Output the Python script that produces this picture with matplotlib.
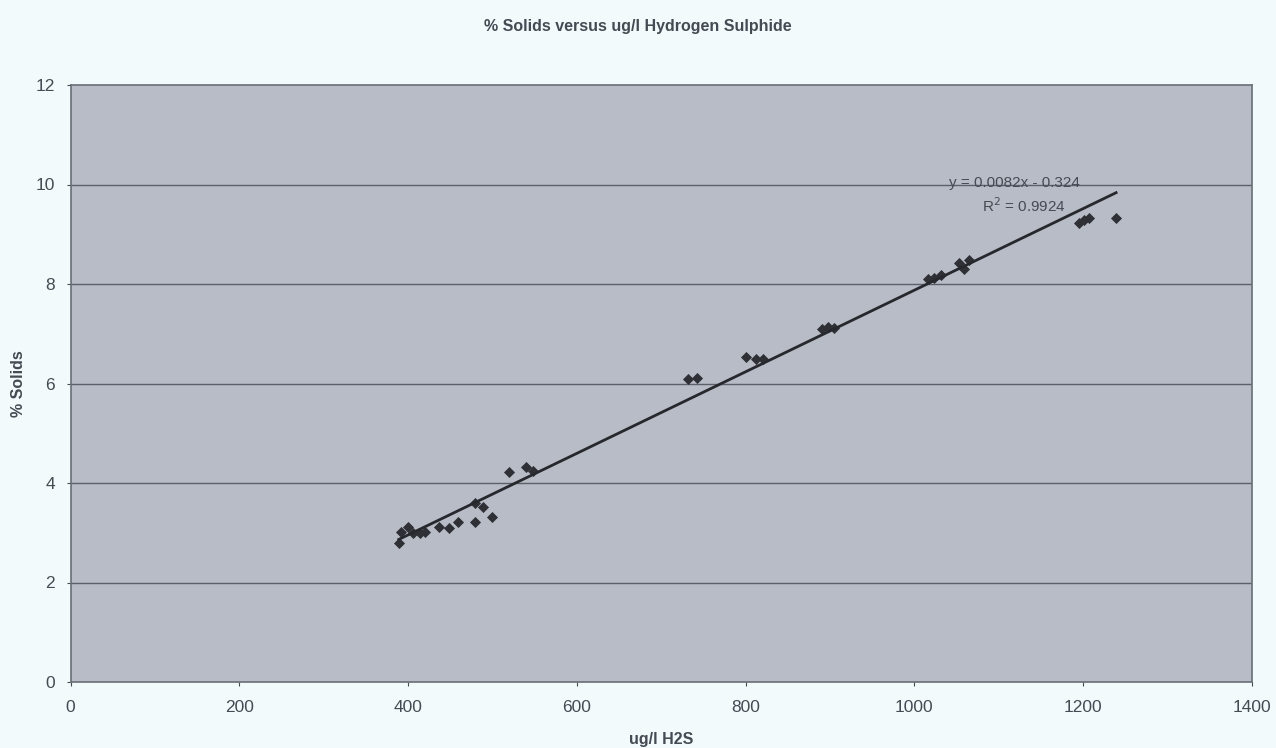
import matplotlib
matplotlib.use('Agg')
import matplotlib.pyplot as plt
import numpy as np

# ug/l H2S against % solids
h2s = [389, 392, 400, 406, 414, 420, 437, 449, 459, 479, 479, 489, 499,
       520, 540, 548,
       732, 742,
       800, 812, 820,
       891, 898, 905,
       1016, 1023, 1031, 1053, 1059, 1065,
       1195, 1201, 1207, 1239]
solids = [2.79, 3.02, 3.12, 2.99, 2.99, 3.02, 3.12, 3.09, 3.22, 3.22, 3.59, 3.52, 3.32,
          4.23, 4.32, 4.25,
          6.10, 6.11,
          6.54, 6.50, 6.50,
          7.10, 7.13, 7.11,
          8.11, 8.13, 8.18, 8.42, 8.31, 8.48,
          9.22, 9.29, 9.32, 9.32]

slope, intercept, r2 = 0.0082, -0.324, 0.9924

xticks = [0, 200, 400, 600, 800, 1000, 1200, 1400]
yticks = [0, 2, 4, 6, 8, 10, 12]

plt.rcParams['font.family'] = ['Liberation Sans', 'DejaVu Sans']
txt = '#454a53'

fig = plt.figure(figsize=(12.76, 7.48), dpi=100, facecolor='#f3fafc')
ax = fig.add_axes([70.5 / 1276, 1 - 682 / 748, (1252 - 70.5) / 1276, (682 - 85) / 748])
ax.set_facecolor('#b7bcc6')

for y in yticks[1:-1]:
    ax.axhline(y, color='#5c6068', lw=1.0, zorder=1)

ax.scatter(h2s, solids, marker='D', s=32, color='#2e3036', zorder=3, linewidths=0)

lx = np.array([min(h2s), max(h2s)])
ax.plot(lx, slope * lx + intercept, color='#26282d', lw=2.0, zorder=4)

ax.text(1118, 10.03, 'y = %gx - %g' % (slope, -intercept), color=txt, fontsize=11,
        ha='center', va='center', zorder=5)
ax.text(1130, 9.57, 'R$^2$ = %g' % r2, color=txt, fontsize=11,
        ha='center', va='center', zorder=5)

ax.set_xlim(0, 1400)
ax.set_ylim(0, 12)
ax.set_xticks(xticks)
ax.set_yticks(yticks)
ax.tick_params(colors=txt, labelsize=12.5, length=3, width=0.8)
ax.tick_params(axis='x', pad=10)
ax.tick_params(axis='y', pad=8)
for s in ax.spines.values():
    s.set_color('#6a6e76')
    s.set_linewidth(1.2)

ax.set_xlabel('ug/l H2S', color=txt, fontsize=11.5, fontweight='bold', labelpad=12)
ax.set_ylabel('% Solids', color=txt, fontsize=11.5, fontweight='bold')
ax.yaxis.set_label_coords(-0.038, 0.5)
fig.text(0.5, 1 - 27 / 748, '% Solids versus ug/l Hydrogen Sulphide', color=txt,
         fontsize=11.5, fontweight='bold', ha='center', va='center')

fig.savefig('out.png', dpi=100, facecolor=fig.get_facecolor())
